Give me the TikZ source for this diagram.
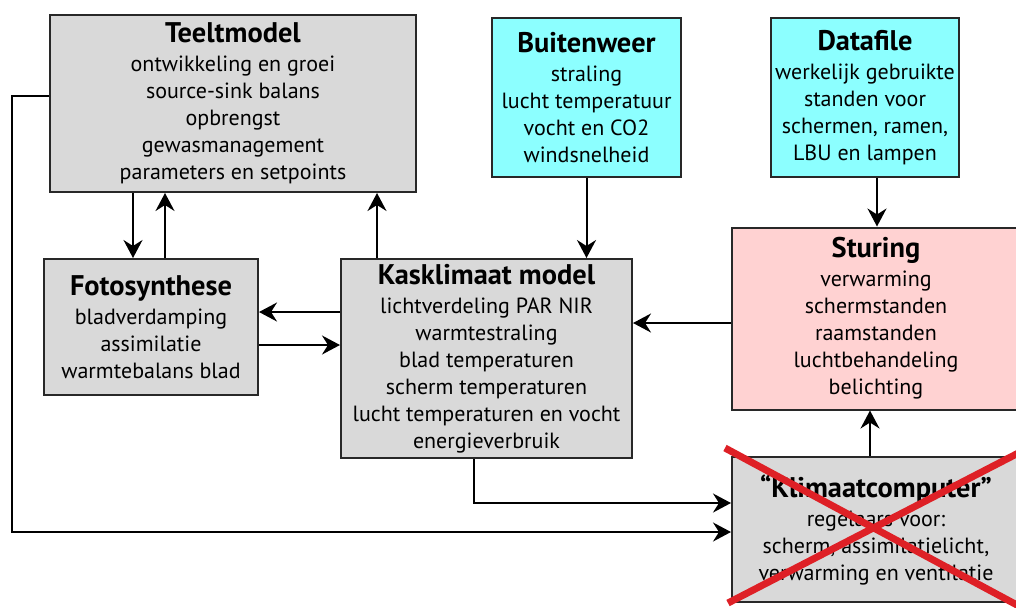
\documentclass[tikz,border=0pt]{standalone}
\usepackage{fontspec}
\setmainfont{PT Sans}
\usetikzlibrary{arrows.meta}
\definecolor{grijs}{RGB}{217,217,217}
\definecolor{cyaan}{RGB}{140,255,255}
\definecolor{roze}{RGB}{255,210,210}
\definecolor{kruisrood}{RGB}{222,32,38}
\definecolor{rand}{RGB}{40,40,40}
\newcommand{\blokkop}[1]{{\fontsize{14.2}{15}\selectfont\bfseries #1}\\[1pt]}

\begin{document}
\begin{tikzpicture}[x=0.5pt,y=-0.5pt,
  blok/.style={draw=rand,line width=1pt,align=center,inner sep=0pt,font=\fontsize{11}{13.5}\selectfont},
  pijl/.style={line width=1pt,-{Stealth[length=9pt,width=9.5pt,inset=3pt]}}]
\clip (0,0) rectangle (1016,607);
\fill[white] (0,0) rectangle (1016,607);
\node[blok,fill=grijs,minimum width=183pt,minimum height=88.5pt] (teelt) at (233,103.5)
  {\blokkop{Teeltmodel}ontwikkeling en groei\\source-sink balans\\opbrengst\\gewasmanagement\\parameters en setpoints};
\node[blok,fill=cyaan,minimum width=94.5pt,minimum height=79.5pt] (buiten) at (586.5,97.5)
  {\blokkop{Buitenweer}straling\\lucht temperatuur\\vocht en CO2\\windsnelheid};
\node[blok,fill=cyaan,minimum width=94pt,minimum height=79.5pt] (data) at (865,97.5)
  {\blokkop{Datafile}werkelijk gebruikte\\standen voor\\schermen, ramen,\\LBU en lampen};
\node[blok,fill=grijs,minimum width=107pt,minimum height=68pt] (foto) at (151,327)
  {\blokkop{Fotosynthese}bladverdamping\\assimilatie\\warmtebalans blad};
\node[blok,fill=grijs,minimum width=145.5pt,minimum height=99.5pt] (kas) at (486.5,358.5)
  {\blokkop{Kasklimaat model}lichtverdeling PAR NIR\\warmtestraling\\blad temperaturen\\scherm temperaturen\\lucht temperaturen en vocht\\energieverbruik};
\node[blok,fill=roze,minimum width=144pt,minimum height=91pt] (sturing) at (876,318.5)
  {\blokkop{Sturing}verwarming\\schermstanden\\raamstanden\\luchtbehandeling\\belichting};
\node[blok,fill=grijs,minimum width=144pt,minimum height=72.5pt] (klimaat) at (876,529.5)
  {\blokkop{“Klimaatcomputer”}regelaars voor:\\scherm, assimilatielicht,\\verwarming en ventilatie};
\draw[pijl] ([xshift=-9pt]foto.north |- teelt.south) -- ([xshift=-9pt]foto.north);
\draw[pijl] ([xshift=7pt]foto.north) -- ([xshift=7pt]foto.north |- teelt.south);
\draw[pijl] ([xshift=18.5pt]kas.north west) -- ([xshift=18.5pt]kas.north west |- teelt.south);
\draw[pijl] (buiten.south) -- (buiten.south |- kas.north);
\draw[pijl] ([xshift=6pt]data.south) -- ([xshift=6pt]data.south |- sturing.north);
\draw[pijl] ([yshift=7.5pt]foto.east -| kas.west) -- ([yshift=7.5pt]foto.east);
\draw[pijl] ([yshift=-9pt]foto.east) -- ([yshift=-9pt]foto.east -| kas.west);
\draw[pijl] ([yshift=-2.25pt]sturing.west) -- ([yshift=-2.25pt]sturing.west -| kas.east);
\draw[pijl] ([xshift=-3pt]klimaat.north) -- ([xshift=-3pt]klimaat.north |- sturing.south);
\draw[pijl] ([xshift=-6.25pt]kas.south) |- ([yshift=13.25pt]klimaat.west);
\draw[pijl] ([yshift=3.75pt]teelt.west) -- ++(-18.5pt,0) |- ([yshift=-1.25pt]klimaat.west);
\draw[kruisrood,line width=3.5pt] (725,448) -- (1030,612);
\draw[kruisrood,line width=3.5pt] (728,603) -- (1030,447);
\end{tikzpicture}
\end{document}
